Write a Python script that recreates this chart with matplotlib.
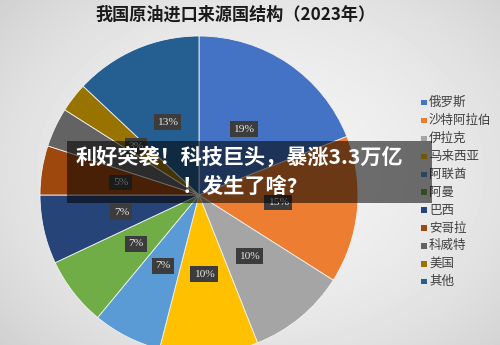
import matplotlib
matplotlib.use("Agg")
import matplotlib.pyplot as plt
import numpy as np
from matplotlib.patches import Rectangle

plt.rcParams['font.family'] = ['Noto Sans CJK SC', 'DejaVu Sans']

title = "我国原油进口来源国结构（2023年）"
countries = ["俄罗斯", "沙特阿拉伯", "伊拉克", "马来西亚", "阿联酋", "阿曼",
             "巴西", "安哥拉", "科威特", "美国", "其他"]
shares = [19, 15, 10, 10, 7, 7, 7, 5, 4, 3, 13]
shown_labels = ["19%", "15%", "10%", "10%", "7%", "7%", "7%", "5%", "", "3%", "13%"]
colors = ["#4472C4", "#ED7D31", "#A5A5A5", "#FFC000", "#5B9BD5", "#70AD47",
          "#264478", "#9E480E", "#636363", "#997300", "#255E91"]
banner_lines = ["利好突袭！科技巨头，暴涨3.3万亿", "！发生了啥?"]

W, H = 500, 345
fig = plt.figure(figsize=(W / 100, H / 100), dpi=100, facecolor="#e9e9e9")

# soft vignette background (decorative)
bg = fig.add_axes([0, 0, 1, 1], zorder=-10)
yy, xx = np.mgrid[0:H, 0:W]
d = np.sqrt(((xx - 260) / 300) ** 2 + ((yy - 170) / 230) ** 2)
shade = 0.95 - 0.10 * np.clip(d, 0, 1.4) ** 2
bg.imshow(shade, cmap="gray", vmin=0, vmax=1, aspect="auto",
          extent=(0, 1, 0, 1), interpolation="bilinear")
bg.axis("off")

# pie axes: centre at (199,195) px from top-left, radius 159 px
cx, cy, R = 199, 195, 159
ax = fig.add_axes([0, 0, 1, 1])
ax.patch.set_alpha(0)

wedges, texts = ax.pie(shares, colors=colors, startangle=90, counterclock=False,
                       radius=1.0, center=(0, 0),
                       wedgeprops=dict(edgecolor="#f2f2f2", linewidth=0.6),
                       labels=shown_labels, labeldistance=0.5,
                       textprops=dict(family="Liberation Serif", fontsize=8.2,
                                      color="#e6e6e6", ha="center", va="center"))
for t in texts:
    if t.get_text():
        t.set_bbox(dict(boxstyle="square,pad=0.3", facecolor="#3c3c3c",
                        edgecolor="none"))
ax.set_aspect("auto")
ax.set_xlim(-cx / R, (W - cx) / R)
ax.set_ylim(-(H - cy) / R, cy / R)
ax.axis("off")

# title
fig.text(236 / W, 1 - 15 / H, title, ha="center", va="center",
         fontsize=12.3, fontweight="bold", color="#1a1a1a")

# legend
y0, dy = 102.7, 17.9
for i, (name, c) in enumerate(zip(countries, colors)):
    y = y0 + dy * i
    fig.patches.append(Rectangle((421 / W, 1 - (y + 2.7) / H), 5.5 / W, 5.5 / H,
                                 transform=fig.transFigure, facecolor=c,
                                 edgecolor="none"))
    fig.text(429 / W, 1 - y / H, name, ha="left", va="center",
             fontsize=9, color="#404040")

# banner overlay
fig.patches.append(Rectangle((67 / W, 1 - 203 / H), (432 - 67) / W, (203 - 141) / H,
                             transform=fig.transFigure, facecolor="black",
                             alpha=0.55, edgecolor="none", zorder=5))
fig.text(239 / W, 1 - 157 / H, banner_lines[0], ha="center", va="center",
         fontsize=15.2, fontweight="bold", color="white", zorder=6)
fig.text(240 / W, 1 - 186 / H, banner_lines[1], ha="center", va="center",
         fontsize=15.2, fontweight="bold", color="white", zorder=6)

fig.savefig("out.png", dpi=100, facecolor=fig.get_facecolor())
